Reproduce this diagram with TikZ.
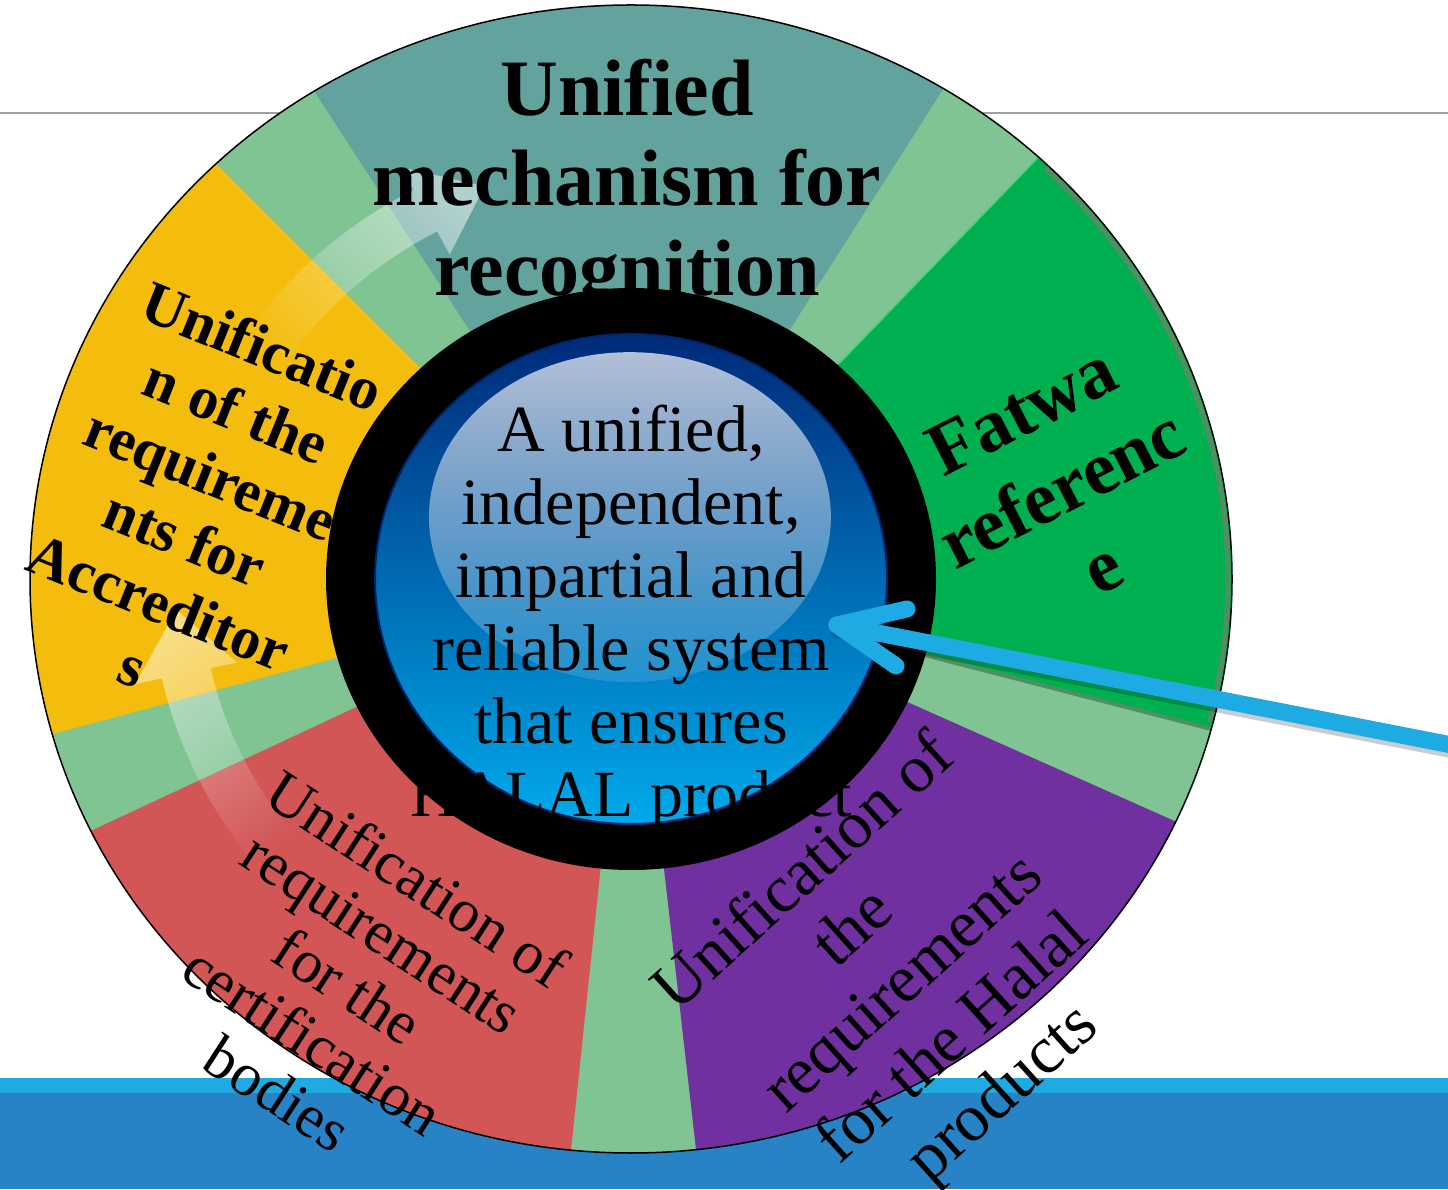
\documentclass[tikz,border=0pt]{standalone}
\usepackage{fontspec}
\setmainfont{Liberation Serif}
\usetikzlibrary{fadings}
\definecolor{ringgreen}{HTML}{80C493}
\definecolor{tealw}{HTML}{62A39D}
\definecolor{greenw}{HTML}{00B050}
\definecolor{greenedge}{HTML}{4F8F63}
\definecolor{greenlight}{HTML}{3FD57F}
\definecolor{purplew}{HTML}{7030A0}
\definecolor{redw}{HTML}{D25656}
\definecolor{yelloww}{HTML}{F4BD0D}
\definecolor{bandlight}{HTML}{1FAAE1}
\definecolor{banddark}{HTML}{2882C6}
\definecolor{arrowblue}{HTML}{1EABE3}
\definecolor{navy}{RGB}{0,42,122}
\definecolor{midblue}{RGB}{0,86,164}
\definecolor{brightblue}{RGB}{0,170,235}
\definecolor{rimblue}{RGB}{0,35,107}
\tikzfading[name=arrowfade, left color=transparent!100, right color=transparent!0]
\tikzfading[name=glossfade, top color=transparent!30, bottom color=transparent!88]
\begin{document}
\begin{tikzpicture}[x=1pt,y=1pt,
  lbl/.style={text=black, align=center, inner sep=0pt},
  cyclearrow/.style={white, fill opacity=0.5, path fading=arrowfade},
  pointer/.style={arrowblue, line width=17, line cap=round, line join=round}]
\useasboundingbox (0,0) rectangle (1448,1189);
\fill[white] (0,0) rectangle (1448,1189);
\draw[gray!75, line width=2] (0,1076) -- (1448,1076);
\fill[bandlight] (0,96) rectangle (1448,111);
\fill[banddark] (0,0) rectangle (1448,96);

\begin{scope}[shift={(631,610)}]
  \fill[ringgreen] (0,0) ellipse [x radius=601, y radius=574];
  \begin{scope}
    \clip (0,0) ellipse [x radius=601, y radius=574];
    \fill[tealw] (0,0) -- (57.5:1000) -- (90:1000) -- (123:1000) -- cycle;
    \fill[greenw] (0,0) -- (-14.5:1000) -- (16:1000) -- (46:1000) -- cycle;
    \fill[purplew] (0,0) -- (276.5:1000) -- (306:1000) -- (336:1000) -- cycle;
    \fill[redw] (0,0) -- (205:1000) -- (234:1000) -- (264:1000) -- cycle;
    \fill[yelloww] (0,0) -- (135:1000) -- (165:1000) -- (195:1000) -- cycle;
    \draw[greenedge, line width=5] (-14.5:597 and 570) arc[start angle=-14.5, end angle=46, x radius=597, y radius=570];
    \draw[greenlight, line width=1.5] (46:300) -- (46:800);
    \draw[greenedge, line width=4] (-14.5:300) -- (-14.5:800);
  \end{scope}
  \draw[black, line width=1.5] (0,0) ellipse [x radius=601, y radius=574];
  % translucent cycle arrows
  \fill[cyclearrow, fading angle=39]
    (150:463 and 441) arc[start angle=150, end angle=118, x radius=463, y radius=441]
    -- (118:490 and 467) -- (109.5:438 and 417) -- (118:386 and 368) -- (118:413 and 394)
    arc[start angle=118, end angle=150, x radius=413, y radius=394] -- cycle;
  \fill[cyclearrow, fading angle=114]
    (220:481 and 458) arc[start angle=220, end angle=192.5, x radius=481, y radius=458]
    -- (192.5:508 and 484) -- (184:456 and 435) -- (192.5:404 and 385) -- (192.5:431 and 411)
    arc[start angle=192.5, end angle=220, x radius=431, y radius=411] -- cycle;
  % core
  \fill[black] (0,0) ellipse [x radius=305, y radius=291];
  \shade[top color=navy, middle color=midblue, bottom color=brightblue] (0,0) ellipse [x radius=256, y radius=245];
  \draw[rimblue, line width=2] (0,0) ellipse [x radius=256, y radius=245];
  \fill[white, path fading=glossfade] (-1,62) ellipse [x radius=201, y radius=165];
\end{scope}

% labels
\node[lbl, font=\fontsize{80}{90}\selectfont\bfseries] (recog) at (627,1003) {Unified\\mechanism for\\recognition};
\node[lbl, font=\fontsize{66}{73}\selectfont] (core) at (631,571) {A unified,\\independent,\\impartial and\\reliable system\\that ensures\\HALAL product};
\node[lbl, font=\fontsize{60}{69}\selectfont\bfseries, rotate=-22] (accr) at (198,683) {Unificatio\\n of the\\requireme\\nts for\\Accreditor\\s};
\node[lbl, font=\fontsize{75}{88}\selectfont\bfseries, rotate=27] (fatwa) at (1062,700) {Fatwa\\referenc\\e};
\node[lbl, font=\fontsize{61}{64}\selectfont, rotate=-33] (certb) at (348,203) {Unification of\\requirements\\for the\\certification\\bodies};
\node[lbl, font=\fontsize{67}{74}\selectfont, rotate=42] (prod) at (905,204) {Unification of\\the\\requirements\\for the Halal\\products};

% pointer arrow
\coordinate (src) at (1462,442);
\coordinate (tip) at (837,564);
\draw[black, opacity=0.2, line width=17, line cap=round] ([shift={(2,-5)}]src) -- ([shift={(2,-5)}]tip);
\draw[pointer] (src) -- (tip);
\draw[pointer] ([shift={(70,16)}]tip) -- (tip) -- ([shift={(59,-41)}]tip);
\end{tikzpicture}
\end{document}
